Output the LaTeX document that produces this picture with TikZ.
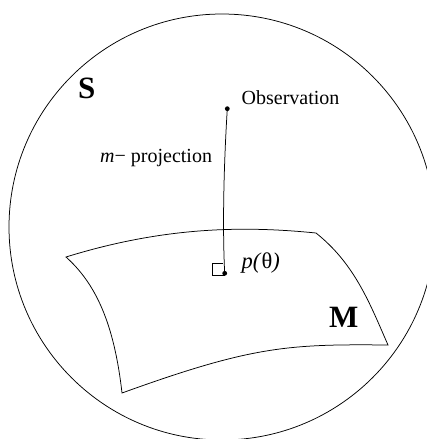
\documentclass[tikz,border=0pt]{standalone}
\usepackage{fontspec}
\setmainfont{Liberation Serif}
\tikzset{
  thinline/.style={line width=0.75pt, black},
  dotnode/.style={circle, fill=black, inner sep=0pt, minimum size=4.8pt},
  lbl/.style={anchor=base west, inner sep=0pt, font=\fontsize{20}{24}\selectfont},
  biglbl/.style={anchor=base west, inner sep=0pt, font=\fontsize{31}{36}\selectfont\bfseries},
}
\begin{document}
\begin{tikzpicture}[x=1pt,y=-1pt]
\useasboundingbox (0,0) rectangle (427,439);
\clip (0,0) rectangle (427,439);
% space S
\coordinate (sc) at (222,227);
\draw[thinline] (sc) circle[radius=213pt];
% manifold M
\coordinate (A) at (66,257);
\coordinate (B) at (316,233);
\coordinate (C) at (388,345);
\coordinate (D) at (122,393);
\draw[thinline, line join=miter]
  (A) .. controls (166,226) and (246,226) .. (B)
      .. controls (355,264) and (370,304) .. (C)
      .. controls (288,344) and (252,346) .. (D)
      .. controls (114,322) and (95,283) .. cycle;
% points
\node[dotnode] (obs) at (227.3,108.7) {};
\node[dotnode] (p) at (224.7,273.3) {};
\draw[thinline] (obs.center) .. controls (223.5,170) and (222.5,230) .. (p.center);
% right angle mark
\draw[thinline] (223,263.3) -- (212.8,263.3) -- (212.8,275.6) -- (224.7,275.6);
% labels
\node[biglbl] (S) at (78,98.3) {S};
\node[biglbl] (M) at (329,327.3) {M};
\node[lbl] (obslbl) at (241.5,104.3) {Observation};
\node[lbl] (mproj) at (100,162.3) {\textit{m}− projection};
\node[lbl, font=\fontsize{22.5}{26}\selectfont] (plbl) at (241.5,268.8) {\textit{p(}θ\textit{)}};
\end{tikzpicture}
\end{document}
